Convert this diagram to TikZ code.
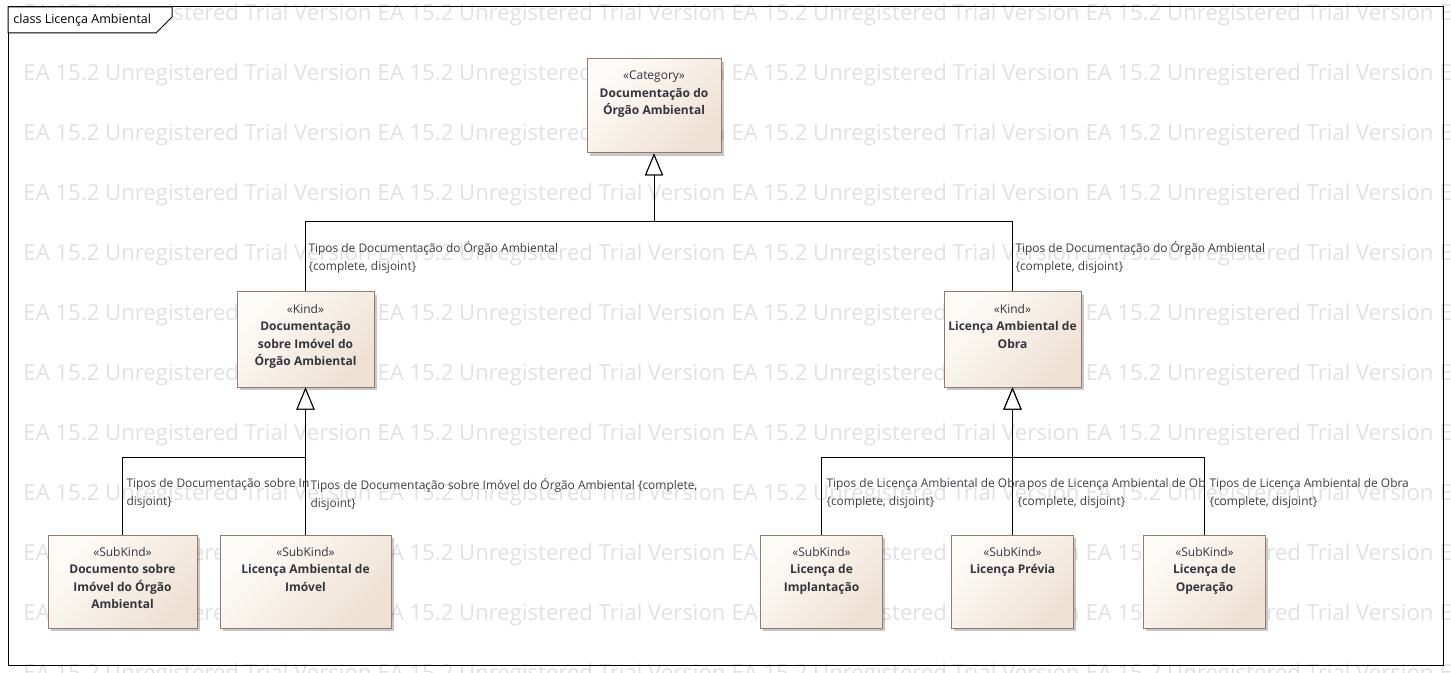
\documentclass[tikz,border=0pt]{standalone}
\usepackage{fontspec}
\setmainfont{Open Sans}
\usetikzlibrary{positioning,arrows.meta,shadows}

\definecolor{boxline}{RGB}{150,122,112}
\definecolor{boxlight}{RGB}{254,252,249}
\definecolor{boxdark}{RGB}{238,225,211}
\definecolor{ink}{RGB}{52,52,62}
\definecolor{tagink}{RGB}{62,62,70}
\definecolor{wmgray}{RGB}{225,225,228}

\tikzset{every picture/.style={line width=0.75pt}}
\tikzset{
  box/.style 2 args={minimum width=#1*0.75pt, minimum height=#2*0.75pt},
  cls/.style={draw=boxline, inner sep=0pt, top color=boxlight, bottom color=boxdark,
    shading angle=45, drop shadow={shadow xshift=2.2pt, shadow yshift=-2.2pt, fill=black, opacity=0.22}},
  clstxt/.style={align=center, inner sep=0pt, text=ink, font=\fontsize{9}{13.2}\selectfont},
  gen/.style={-{Triangle[fill=white, length=16.5pt, width=13.5pt]}},
  tag/.style={anchor=north west, align=left, inner sep=0pt, text=tagink, font=\fontsize{8.95}{13.5}\selectfont},
  wm/.style={anchor=west, inner sep=0pt, text=wmgray, font=\fontsize{16.6}{17}\selectfont},
}

\begin{document}
\begin{tikzpicture}[x=0.75pt,y=-0.75pt]
\useasboundingbox (0,0) rectangle (1451,673);

% watermark rows
\begin{scope}
\clip (0,0) rectangle (1451,673);
\foreach \r in {0,...,11}
  \foreach \c in {0,...,4}
    \node[wm] (wm\r-\c) at (23+354*\c,15+60*\r) {EA 15.2 Unregistered Trial Version};
\end{scope}

% diagram frame
\draw (8,7) rectangle (1443,665);
\draw[fill=white] (8,7) -- (8,33) -- (156,33) -- (172,17) -- (172,7) -- cycle;
\node[anchor=west, inner sep=0pt, font=\fontsize{9.4}{10}\selectfont] (title) at (13,20) {class Licença Ambiental};

% classes
\node[cls, box={134}{94}] (cat) at (654,106) {};
\node[clstxt, below=9pt of cat.north] (catT) {«Category»\\\textbf{Documentação do}\\\textbf{Órgão Ambiental}};

\node[cls, box={137}{95}] (kindL) at (305.5,339.5) {};
\node[clstxt, below=9pt of kindL.north] (kindLT) {«Kind»\\\textbf{Documentação}\\\textbf{sobre Imóvel do}\\\textbf{Órgão Ambiental}};
\node[cls, box={137}{95}] (kindR) at (1012.5,339.5) {};
\node[clstxt, below=9pt of kindR.north] (kindRT) {«Kind»\\\textbf{Licença Ambiental de}\\\textbf{Obra}};

\node[cls, box={149}{93}] (docImovel) at (122.5,581.5) {};
\node[clstxt, below=9pt of docImovel.north] (docImovelT) {«SubKind»\\\textbf{Documento sobre}\\\textbf{Imóvel do Órgão}\\\textbf{Ambiental}};
\node[cls, box={171}{93}] (licImovel) at (305.5,581.5) {};
\node[clstxt, below=9pt of licImovel.north] (licImovelT) {«SubKind»\\\textbf{Licença Ambiental de}\\\textbf{Imóvel}};

\node[cls, box={122}{93}] (licImpl) at (821.5,581.5) {};
\node[clstxt, below=9pt of licImpl.north] (licImplT) {«SubKind»\\\textbf{Licença de}\\\textbf{Implantação}};
\node[cls, box={122}{93}] (licPrev) at (1012.5,581.5) {};
\node[clstxt, below=9pt of licPrev.north] (licPrevT) {«SubKind»\\\textbf{Licença Prévia}};
\node[cls, box={122}{93}] (licOper) at (1204.5,581.5) {};
\node[clstxt, below=9pt of licOper.north] (licOperT) {«SubKind»\\\textbf{Licença de}\\\textbf{Operação}};

% generalization sets
\coordinate (j1) at (654,222);
\coordinate (j2) at (305.5,457);
\coordinate (j3) at (1012.5,457);
\draw[gen] (kindL.north) |- (j1) -- (cat.south);
\draw[gen] (kindR.north) |- (j1) -- (cat.south);
\draw[gen] (docImovel.north) |- (j2) -- (kindL.south);
\draw[gen] (licImovel.north) -- (kindL.south);
\draw[gen] (licImpl.north) |- (j3) -- (kindR.south);
\draw[gen] (licPrev.north) -- (kindR.south);
\draw[gen] (licOper.north) |- (j3) -- (kindR.south);

% set labels
\node[tag] (gsA) at (308,241) {Tipos de Documentação do Órgão Ambiental\\\{complete, disjoint\}};
\node[tag] (gsB) at (1015,241) {Tipos de Documentação do Órgão Ambiental\\\{complete, disjoint\}};
\node[tag] (gsC) at (126,478) {Tipos de Documentação sobre In\\disjoint\}};
\node[tag] (gsD) at (310,478) {Tipos de Documentação sobre Imóvel do Órgão Ambiental \{complete,\\disjoint\}};
\node[tag] (gsE) at (826,478) {Tipos de Licença Ambiental de Obra\\\{complete, disjoint\}};
\node[tag] (gsF) at (1017,478) {\phantom{Ti}pos de Licença Ambiental de Ob\\\{complete, disjoint\}};
\node[tag] (gsG) at (1209,478) {Tipos de Licença Ambiental de Obra\\\{complete, disjoint\}};

\end{tikzpicture}
\end{document}
